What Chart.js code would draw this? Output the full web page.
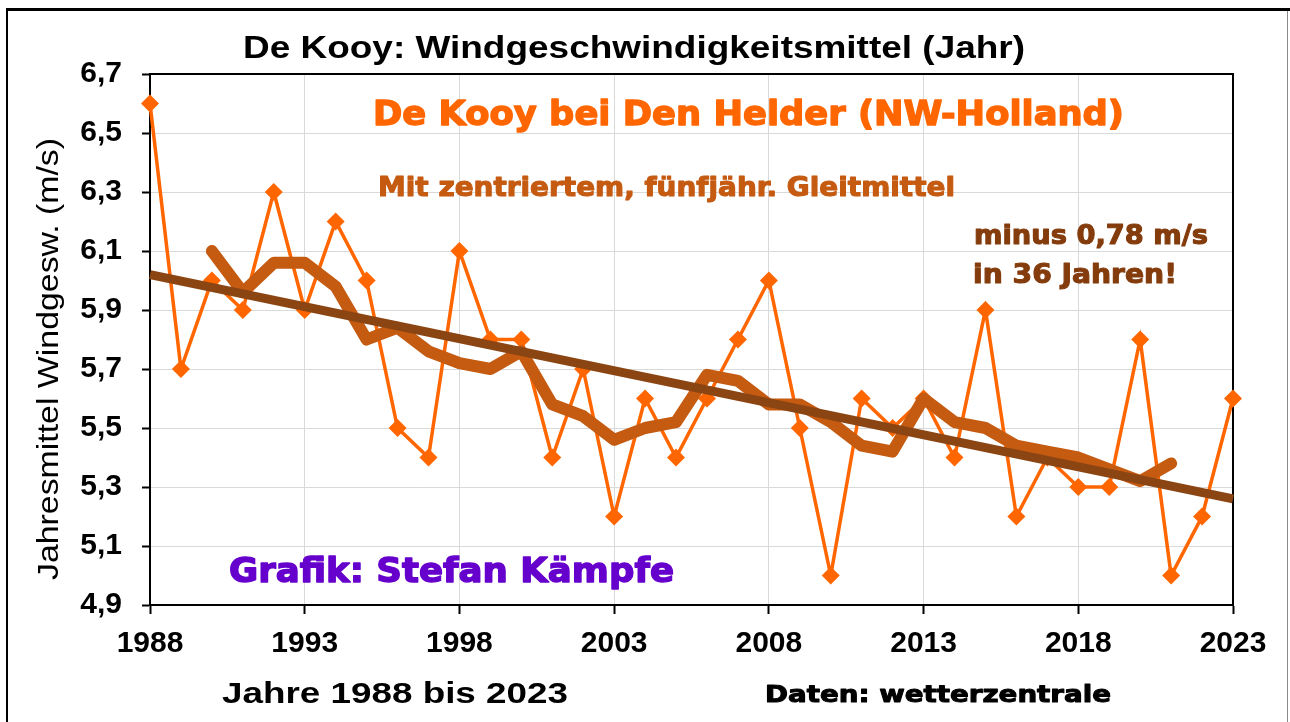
<!DOCTYPE html>
<html><head><meta charset="utf-8">
<script src="https://cdn.jsdelivr.net/npm/chart.js@4"></script>
<style>html,body{margin:0;padding:0;background:#fff;overflow:hidden}#wrap{width:1290px;height:722px;position:relative}</style>
</head><body><div id="wrap"><canvas id="c" width="1290" height="722"></canvas></div>
<script>
const years = [1988,1989,1990,1991,1992,1993,1994,1995,1996,1997,1998,1999,2000,2001,2002,2003,2004,2005,2006,2007,2008,2009,2010,2011,2012,2013,2014,2015,2016,2017,2018,2019,2020,2021,2022,2023];
const windMean = [6.6,5.7,6.0,5.9,6.3,5.9,6.2,6.0,5.5,5.4,6.1,5.8,5.8,5.4,5.7,5.2,5.6,5.4,5.6,5.8,6.0,5.5,5.0,5.6,5.5,5.6,5.4,5.9,5.2,5.4,5.3,5.3,5.8,5.0,5.2,5.6];
const maYears = [1990,1991,1992,1993,1994,1995,1996,1997,1998,1999,2000,2001,2002,2003,2004,2005,2006,2007,2008,2009,2010,2011,2012,2013,2014,2015,2016,2017,2018,2019,2020,2021];
const movingAvg = [6.10,5.96,6.06,6.06,5.98,5.80,5.84,5.76,5.72,5.70,5.76,5.58,5.54,5.46,5.50,5.52,5.68,5.66,5.58,5.58,5.52,5.44,5.42,5.60,5.52,5.50,5.44,5.42,5.40,5.36,5.32,5.38];
const trendYears = [1988,2023];
const trendValues = [6.02,5.26];
const xTicks = [1988,1993,1998,2003,2008,2013,2018,2023];
const yTicks = [4.9,5.1,5.3,5.5,5.7,5.9,6.1,6.3,6.5,6.7];

function fitText(ctx, text, x, y, width, font, color, rot, strokeW) {
  ctx.save();
  ctx.font = font;
  ctx.fillStyle = color;
  ctx.strokeStyle = color;
  ctx.textAlign = 'left';
  ctx.textBaseline = 'alphabetic';
  const w = ctx.measureText(text).width;
  ctx.translate(x, y);
  if (rot) ctx.rotate(rot);
  ctx.scale(width / w, 1);
  ctx.fillText(text, 0, 0);
  if (strokeW) { ctx.lineWidth = strokeW; ctx.lineJoin = 'round'; ctx.strokeText(text, 0, 0); }
  ctx.restore();
}

const framePlugin = {
  id: 'frame',
  beforeDraw(chart) {
    const ctx = chart.ctx;
    ctx.save();
    ctx.fillStyle = '#fff';
    ctx.fillRect(0, 0, chart.width, chart.height);
    ctx.fillStyle = '#000';
    ctx.fillRect(6, 8, 1284, 3);
    ctx.fillRect(6, 8, 2, 714);
    ctx.fillStyle = '#8a8a8a';
    ctx.fillRect(1287, 11, 1, 711);
    ctx.restore();
  },
  beforeDatasetsDraw(chart) {
    const ctx = chart.ctx, a = chart.chartArea;
    ctx.save();
    ctx.strokeStyle = '#000';
    ctx.lineWidth = 2;
    ctx.beginPath();
    ctx.moveTo(a.left, a.top); ctx.lineTo(a.right, a.top); ctx.lineTo(a.right, a.bottom);
    ctx.stroke();
    ctx.restore();
  },
  afterDraw(chart) {
    const ctx = chart.ctx;
    const ls = '"Liberation Sans", Arial, sans-serif';
    const dv = '"DejaVu Sans", sans-serif';
    fitText(ctx, 'De Kooy: Windgeschwindigkeitsmittel (Jahr)', 243, 58, 782, 'bold 31px ' + ls, '#000');
    fitText(ctx, 'De Kooy bei Den Helder (NW-Holland)', 373, 125, 751, 'bold 34px ' + dv, '#FF6600', 0, 1.4);
    fitText(ctx, 'Mit zentriertem, fünfjähr. Gleitmittel', 378, 196, 577, 'bold 27px ' + dv, '#C55A11', 0, 1.1);
    fitText(ctx, 'minus 0,78 m/s', 974, 244, 234, 'bold 27px ' + dv, '#843C0C', 0, 1.1);
    fitText(ctx, 'in 36 Jahren!', 973, 283, 204, 'bold 27px ' + dv, '#843C0C', 0, 1.1);
    fitText(ctx, 'Grafik: Stefan Kämpfe', 229, 582, 445, 'bold 34px ' + dv, '#6600CC', 0, 1.4);
    fitText(ctx, 'Jahre 1988 bis 2023', 222, 703, 346, 'bold 29px ' + ls, '#000');
    fitText(ctx, 'Daten: wetterzentrale', 765, 702, 346, 'bold 23px ' + dv, '#000', 0, 1);
    fitText(ctx, 'Jahresmittel Windgesw. (m/s)', 58, 580, 442, '29px ' + ls, '#000', -Math.PI / 2);
  }
};

const tickFont = {family: '"Liberation Sans", Arial, sans-serif', size: 30, weight: 'bold'};

new Chart(document.getElementById('c'), {
  type: 'line',
  data: {
    datasets: [
      {
        label: 'Trend',
        data: trendYears.map((x, i) => ({x: x, y: trendValues[i]})),
        borderColor: '#8B4513', borderWidth: 9, pointRadius: 0,
        borderCapStyle: 'butt', order: 0, clip: false
      },
      {
        label: 'Gleitmittel',
        data: maYears.map((x, i) => ({x: x, y: movingAvg[i]})),
        borderColor: '#C55A11', borderWidth: 12, pointRadius: 0,
        borderCapStyle: 'round', borderJoinStyle: 'round', order: 1
      },
      {
        label: 'Jahresmittel',
        data: years.map((x, i) => ({x: x, y: windMean[i]})),
        borderColor: '#FF6600', borderWidth: 3.5,
        pointStyle: 'rectRot', pointRadius: 9, pointBackgroundColor: '#FF6600',
        pointBorderColor: '#FF6600', pointBorderWidth: 0,
        order: 2, clip: false, tension: 0
      }
    ]
  },
  options: {
    responsive: false, animation: false, events: [], devicePixelRatio: 1,
    layout: {padding: {left: 0, top: 74, right: 57, bottom: 0}},
    plugins: {legend: {display: false}, tooltip: {enabled: false}},
    scales: {
      x: {
        type: 'linear', min: 1988, max: 2023,
        afterBuildTicks: s => { s.ticks = xTicks.map(v => ({value: v})); },
        afterFit: s => { s.height = 117; },
        grid: {color: '#d9d9d9', tickColor: '#000', tickLength: 9, lineWidth: 1, tickWidth: 2},
        border: {color: '#000', width: 2},
        ticks: {font: tickFont, color: '#000', padding: 12, autoSkip: false, maxRotation: 0, callback: v => String(v)}
      },
      y: {
        min: 4.9, max: 6.7,
        afterBuildTicks: s => { s.ticks = yTicks.map(v => ({value: v})); },
        afterFit: s => { s.width = 150; },
        grid: {color: '#d9d9d9', tickColor: '#000', tickLength: 8, lineWidth: 1, tickWidth: 2},
        border: {color: '#000', width: 2},
        ticks: {font: tickFont, color: '#000', padding: 20, callback: v => Number(v).toFixed(1).replace('.', ',')}
      }
    }
  },
  plugins: [framePlugin]
});
</script>
</body></html>
